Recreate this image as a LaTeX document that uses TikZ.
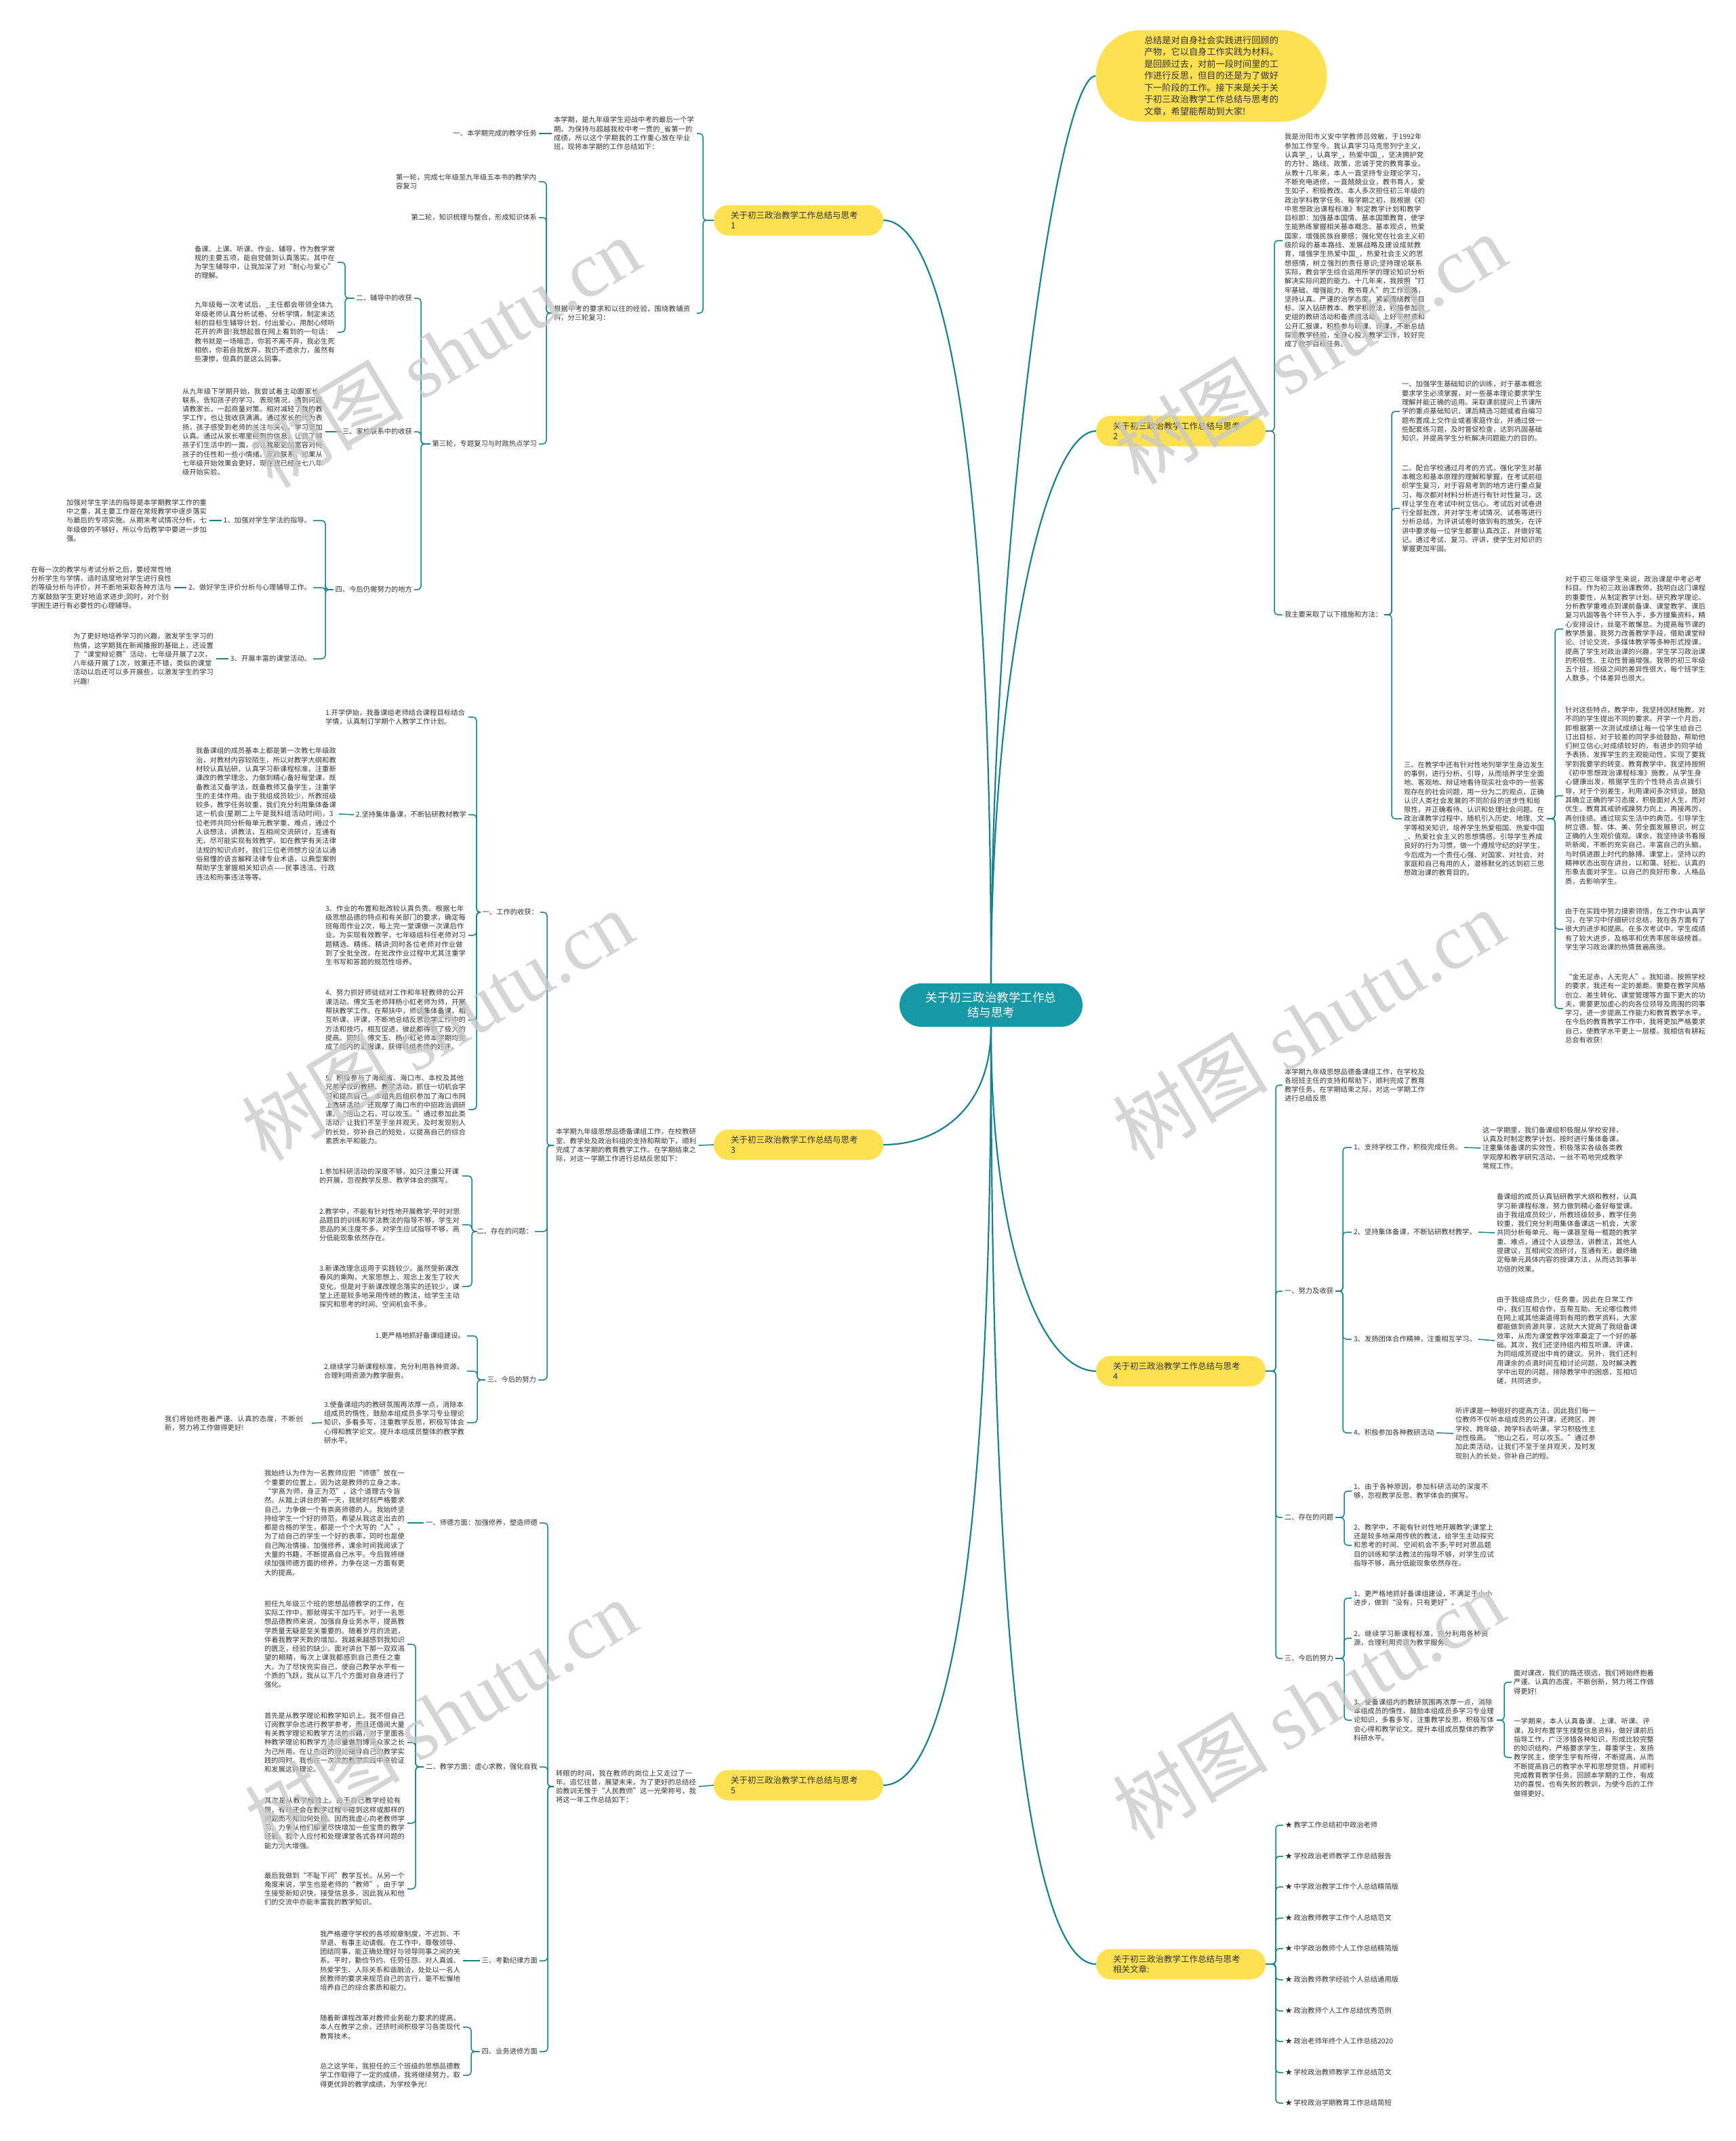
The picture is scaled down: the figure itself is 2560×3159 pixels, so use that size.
\documentclass[tikz,border=0pt]{standalone}
\usepackage{fontspec}
\setmainfont{Noto Sans CJK SC}
\newfontfamily\wmfont{Liberation Serif}
\usepackage{tikz}
\usetikzlibrary{positioning}
\XeTeXlinebreaklocale "zh"
\XeTeXlinebreakskip=0pt plus 1pt

\definecolor{kernfarbe}{RGB}{22,152,166}
\definecolor{gelb}{RGB}{253,225,80}
\definecolor{linie}{RGB}{24,130,144}
\definecolor{schrift}{RGB}{51,51,51}

\tikzset{
    kern/.style={fill=kernfarbe, text=white, rounded corners=32pt, minimum width=270pt, minimum height=64pt, align=center, font=\fontsize{17.5}{22}\selectfont},
    blase/.style={fill=gelb, text=schrift, rounded corners=67pt, minimum width=341pt, minimum height=135pt, align=left, font=\fontsize{13.2}{17.5}\selectfont},
    thema/.style={fill=gelb, text=schrift, rounded corners=22pt, minimum height=45pt, text width=200pt, inner xsep=25pt, inner ysep=4pt, align=left, font=\fontsize{12.5}{15}\selectfont},
    punkt/.style={text=schrift, inner sep=0pt, outer sep=3pt, font=\fontsize{10.3}{13.3}\selectfont},
    absatz/.style={punkt, text width=208pt, align=left},
    ast/.style={draw=linie, line width=1.5pt, rounded corners=5pt},
    hauptast/.style={draw=linie, line width=2.2pt},
    wasserzeichen/.style={text=black!22, text opacity=0.75, rotate=31, font=\fontsize{115}{115}\selectfont}
}

\begin{document}
\begin{tikzpicture}[x=1pt, y=-1pt]
        % Umgebung
            \fill[white] (0,0) rectangle (2560,3159);
            \useasboundingbox (0,0) rectangle (2560,3159);

        % Mitte und Einleitung
            \node[kern] (kern) at (1462,1483) {关于初三政治教学工作总\\结与思考};
            \node[blase] (einl) at (1787,112) {总结是对自身社会实践进行回顾的\\产物，它以自身工作实践为材料。\\是回顾过去，对前一段时间里的工\\作进行反思，但目的还是为了做好\\下一阶段的工作。接下来是关于关\\于初三政治教学工作总结与思考的\\文章，希望能帮助到大家!};

        % Themen
            \node[thema] (th1) at (1178,325) {关于初三政治教学工作总结与思考\\1};
            \node[thema] (th2) at (1742,636) {关于初三政治教学工作总结与思考\\2};
            \node[thema] (th3) at (1178,1689) {关于初三政治教学工作总结与思考\\3};
            \node[thema] (th4) at (1742,2023) {关于初三政治教学工作总结与思考\\4};
            \node[thema] (th5) at (1178,2634) {关于初三政治教学工作总结与思考\\5};
            \node[thema] (th6) at (1742,2898) {关于初三政治教学工作总结与思考\\相关文章:};

        % Hauptaeste
            \draw[hauptast] (kern.north) .. controls (1462,800) and (1560,112) .. (einl.west);
            \draw[hauptast] (kern.north) .. controls (1462,650) and (1390,325) .. (th1.east);
            \draw[hauptast] (kern.north) .. controls (1462,1000) and (1540,636) .. (th2.west);
            \draw[hauptast] (kern.south) .. controls (1462,1640) and (1380,1689) .. (th3.east);
            \draw[hauptast] (kern.south) .. controls (1462,1850) and (1540,2023) .. (th4.west);
            \draw[hauptast] (kern.south) .. controls (1462,2350) and (1390,2634) .. (th5.east);
            \draw[hauptast] (kern.south) .. controls (1462,2600) and (1540,2898) .. (th6.west);

        % Thema 1
            \coordinate (k1) at (1037,0);
            \coordinate (k1b) at (806,0);
            \coordinate (k1c) at (621,0);
            \coordinate (k1d) at (509,0);
            \coordinate (k1e) at (480,0);
            \node[absatz, anchor=east] (p1a) at (1028,197) {本学期，是九年级学生迎战中考的最后一个学期。为保持与超越我校中考一贯的\_省第一的成绩，所以这个学期我的工作重心放在毕业班，现将本学期的工作总结如下：};
            \node[punkt, anchor=east] (p1a1) at (795,197) {一、本学期完成的教学任务};
            \node[absatz, anchor=east] (p1b) at (1028,462) {根据中考的要求和以往的经验，围绕教辅资料，分三轮复习：};
            \node[absatz, anchor=east] (lun1) at (795,268) {第一轮，完成七年级至九年级五本书的教学内容复习};
            \node[punkt, anchor=east] (lun2) at (795,321) {第二轮，知识梳理与整合，形成知识体系};
            \node[punkt, anchor=east] (lun3) at (795,655) {第三轮，专题复习与时政热点学习};
            \node[punkt, anchor=east] (g2) at (611,440) {二、辅导中的收获};
            \node[absatz, anchor=east] (g2a) at (498,387) {备课、上课、听课、作业、辅导，作为教学常规的主要五项，能自觉做到认真落实。其中在为学生辅导中，让我加深了对“耐心与爱心”的理解。};
            \node[absatz, anchor=east] (g2b) at (498,490) {九年级每一次考试后，\_主任都会带领全体九年级老师认真分析试卷、分析学情，制定未达标的目标生辅导计划，付出爱心，用耐心倾听花开的声音!我想起曾在网上看到的一句话：教书就是一场暗恋，你若不离不弃，我必生死相依，你若自我放弃，我仍不遗余力，虽然有些凄惨，但真的是这么回事。};
            \node[punkt, anchor=east] (g3) at (611,637) {三、家校联系中的收获};
            \node[absatz, anchor=east] (g3a) at (480,637) {从九年级下学期开始，我尝试着主动跟家长联系，告知孩子的学习、表现情况，遇到问题请教家长，一起商量对策。相对减轻了我的教学工作，也让我收获满满。通过家长的代为表扬，孩子感受到老师的关注与关心，学习更加认真。通过从家长哪里得到的信息，让我了解孩子们生活中的一面，也让我能更加宽容对待孩子的任性和一些小情绪。家校联系，如果从七年级开始效果会更好，现在我已经在七八年级开始实验。};
            \node[punkt, anchor=east] (g4) at (611,870) {四、今后仍需努力的地方};
            \node[punkt, anchor=east] (g4a) at (462,768) {1、加强对学生学法的指导。};
            \node[absatz, anchor=east] (g4a1) at (309,768) {加强对学生学法的指导是本学期教学工作的重中之重，其主要工作是在常规教学中逐步落实与最后的专项实施。从期末考试情况分析，七年级做的不够好，所以今后教学中要进一步加强。};
            \node[punkt, anchor=east] (g4b) at (462,867) {2、做好学生评价分析与心理辅导工作。};
            \node[absatz, anchor=east] (g4b1) at (257,867) {在每一次的教学与考试分析之后，要经常性地分析学生与学情，适时适度地对学生进行良性的等级分析与评价，并不断地采取各种方法与方案鼓励学生更好地追求进步;同时，对个别学困生进行有必要性的心理辅导。};
            \node[punkt, anchor=east] (g4c) at (462,972) {3、开展丰富的课堂活动。};
            \node[absatz, anchor=east] (g4c1) at (319,972) {为了更好地培养学习的兴趣，激发学生学习的热情，这学期我在新闻播报的基础上，还设置了“课堂辩论赛”活动，七年级开展了2次，八年级开展了1次，效果还不错，类似的课堂活动以后还可以多开展些，以激发学生的学习兴趣!};

            \draw[ast] (th1.west) -- (k1 |- th1.west) |- (p1a.east);
            \draw[ast] (th1.west) -- (k1 |- th1.west) |- (p1b.east);
            \draw[ast] (p1a.west) -- (p1a1.east);
            \draw[ast] (p1b.west) -- (k1b |- p1b.west) |- (lun1.east);
            \draw[ast] (p1b.west) -- (k1b |- p1b.west) |- (lun2.east);
            \draw[ast] (p1b.west) -- (k1b |- p1b.west) |- (lun3.east);
            \draw[ast] (lun3.west) -- (k1c |- lun3.west) |- (g2.east);
            \draw[ast] (lun3.west) -- (k1c |- lun3.west) |- (g3.east);
            \draw[ast] (lun3.west) -- (k1c |- lun3.west) |- (g4.east);
            \draw[ast] (g2.west) -- (k1d |- g2.west) |- (g2a.east);
            \draw[ast] (g2.west) -- (k1d |- g2.west) |- (g2b.east);
            \draw[ast] (g3.west) -- (g3a.east);
            \draw[ast] (g4.west) -- (k1e |- g4.west) |- (g4a.east);
            \draw[ast] (g4.west) -- (k1e |- g4.west) |- (g4b.east);
            \draw[ast] (g4.west) -- (k1e |- g4.west) |- (g4c.east);
            \draw[ast] (g4a.west) -- (g4a1.east);
            \draw[ast] (g4b.west) -- (g4b1.east);
            \draw[ast] (g4c.west) -- (g4c1.east);

        % Thema 2
            \coordinate (k2) at (1880,0);
            \coordinate (k2b) at (2053,0);
            \coordinate (k2c) at (2294,0);
            \node[absatz, anchor=west] (p2a) at (1892,355) {我是汾阳市义安中学教师吕效敏，于1992年参加工作至今。我认真学习马克思列宁主义，认真学\_，认真学\_，热爱中国\_，坚决拥护党的方针、路线、政策，忠诚于党的教育事业。从教十几年来，本人一直坚持专业理论学习，不断充电进修，一直兢兢业业，教书育人，爱生如子，积极教改。本人多次担任初三年级的政治学科教学任务。每学期之初，我根据《初中思想政治课程标准》制定教学计划和教学目标即：加强基本国情、基本国策教育，使学生能熟练掌握相关基本概念、基本观点，热爱国家，增强民族自豪感；强化党在社会主义初级阶段的基本路线、发展战略及建设成就教育，增强学生热爱中国\_，热爱社会主义的思想感情，树立强烈的责任意识;坚持理论联系实际，教会学生综合运用所学的理论知识分析解决实际问题的能力。十几年来，我按照“打牢基础、增强能力、教书育人”的工作思路，坚持认真、严谨的治学态度，紧紧围绕教学目标，深入钻研教本、教学和教法，积极参加政史组的教研活动和备课组活动，上好平时课和公开汇报课，积极参与听课、评课，不断总结探索教学经验，全身心投入教学工作，较好完成了教学目标任务。};
            \node[punkt, anchor=west] (p2b) at (1892,907) {我主要采取了以下措施和方法：};
            \node[absatz, anchor=west] (m1) at (2065,607) {一、加强学生基础知识的训练，对于基本概念要求学生必须掌握，对一些基本理论要求学生理解并能正确的运用。采取课前提问上节课所学的重点基础知识，课后精选习题或者自编习题布置成上交作业或者家庭作业，并通过做一些配套练习题，及时督促检查，达到巩固基础知识，并提高学生分析解决问题能力的目的。};
            \node[absatz, anchor=west] (m2) at (2065,750) {二、配合学校通过月考的方式，强化学生对基本概念和基本原理的理解和掌握，在考试前组织学生复习，对于容易考到的地方进行重点复习，每次都对材料分析进行有针对性复习，这样让学生在考试中树立信心。考试后对试卷进行全部批改，并对学生考试情况、试卷等进行分析总结，为评讲试卷时做到有的放矢，在评讲中要求每一位学生都要认真改正，并做好笔记。通过考试、复习、评讲，使学生对知识的掌握更加牢固。};
            \node[absatz, anchor=west] (m3) at (2068,1208) {三、在教学中还有针对性地列举学生身边发生的事例，进行分析、引导，从而培养学生全面地、客观地、辩证地看待现实社会中的一些客观存在的社会问题，用一分为二的观点，正确认识人类社会发展的不同阶段的进步性和局限性，并正确看待、认识和处理社会问题。在政治课教学过程中，随机引入历史、地理、文学等相关知识，培养学生热爱祖国、热爱中国\_、热爱社会主义的思想情感。引导学生养成良好的行为习惯，做一个遵规守纪的好学生，今后成为一个责任心强、对国家、对社会、对家庭和自己有用的人，潜移默化的达到初三思想政治课的教育目的。};
            \node[absatz, anchor=west] (m3a) at (2306,928) {对于初三年级学生来说，政治课是中考必考科目。作为初三政治课教师，我明白这门课程的重要性，从制定教学计划、研究教学理论、分析教学重难点到课前备课、课堂教学、课后复习巩固等各个环节入手，多方搜集资料，精心安排设计，丝毫不敢懈怠。为提高每节课的教学质量，我努力改善教学手段，借助课堂辩论、讨论交流、多媒体教学等多种形式授课，提高了学生对政治课的兴趣，学生学习政治课的积极性、主动性普遍增强。我带的初三年级五个班，班级之间的差异性很大，每个班学生人数多，个体差异也很大。};
            \node[absatz, anchor=west] (m3b) at (2306,1174) {针对这些特点，教学中，我坚持因材施教，对不同的学生提出不同的要求。开学一个月后，即根据第一次测试成绩让每一位学生给自己订出目标，对于较差的同学多给鼓励，帮助他们树立信心;对成绩较好的，有进步的同学给予表扬，发挥学生的主观能动性，实现了要我学到我要学的转变。教育教学中，我坚持按照《初中思想政治课程标准》施教，从学生身心健康出发，根据学生的个性特点去点拨引导，对于个别差生，利用课间多次倾谈，鼓励其确立正确的学习态度，积极面对人生，而对优生，教育其戒骄戒躁努力向上，再接再厉，再创佳绩。通过现实生活中的典范，引导学生树立德、智、体、美、劳全面发展意识，树立正确的人生观价值观。课余，我坚持读书看报听新闻，不断的充实自己，丰富自己的头脑，与时俱进跟上时代的脉搏。课堂上，坚持以的精神状态出现在讲台，以和蔼、轻松、认真的形象去面对学生。以自己的良好形象，人格品质，去影响学生。};
            \node[absatz, anchor=west] (m3c) at (2306,1371) {由于在实践中努力摸索领悟，在工作中认真学习，在学习中仔细研讨总结，我在各方面有了很大的进步和提高。在多次考试中，学生成绩有了较大进步，及格率和优秀率居年级榜首。学生学习政治课的热情普遍高涨。};
            \node[absatz, anchor=west] (m3d) at (2306,1488) {“金无足赤，人无完人”。我知道，按照学校的要求，我还有一定的差距。需要在教学风格创立、差生转化、课堂管理等方面下更大的功夫，需要更加虚心的向各位领导及周围的同事学习，进一步提高工作能力和教育教学水平。在今后的教育教学工作中，我将更加严格要求自己，使教学水平更上一层楼。我相信有耕耘总会有收获!};

            \draw[ast] (th2.east) -- (k2 |- th2.east) |- (p2a.west);
            \draw[ast] (th2.east) -- (k2 |- th2.east) |- (p2b.west);
            \draw[ast] (p2b.east) -- (k2b |- p2b.east) |- (m1.west);
            \draw[ast] (p2b.east) -- (k2b |- p2b.east) |- (m2.west);
            \draw[ast] (p2b.east) -- (k2b |- p2b.east) |- (m3.west);
            \draw[ast] (m3.east) -- (k2c |- m3.east) |- (m3a.west);
            \draw[ast] (m3.east) -- (k2c |- m3.east) |- (m3b.west);
            \draw[ast] (m3.east) -- (k2c |- m3.east) |- (m3c.west);
            \draw[ast] (m3.east) -- (k2c |- m3.east) |- (m3d.west);

        % Thema 3
            \coordinate (k3a) at (807,0);
            \coordinate (k3b) at (703,0);
            \coordinate (k3c) at (696,0);
            \coordinate (k3d) at (704,0);
            \node[absatz, anchor=east] (p3a) at (1031,1690) {本学期九年级思想品德备课组工作，在校教研室、教学处及政治科组的支持和帮助下，顺利完成了本学期的教育教学工作。在学期结束之际，对这一学期工作进行总结反思如下：};
            \node[punkt, anchor=east] (w1) at (797,1346) {一、工作的收获：};
            \node[absatz, anchor=east] (w1a) at (691,1058) {1.开学伊始，我备课组老师结合课程目标结合学情，认真制订学期个人教学工作计划。};
            \node[punkt, anchor=east] (w1b) at (691,1202) {2.坚持集体备课，不断钻研教材教学};
            \node[absatz, anchor=east] (w1b1) at (500,1201) {我备课组的成员基本上都是第一次教七年级政治，对教材内容较陌生，所以对教学大纲和教材较认真钻研，认真学习新课程标准，注重新课改的教学理念，力做到精心备好每堂课，既备教法又备学法，既备教师又备学生，注重学生的主体作用。由于我组成员较少，所教班级较多，教学任务较重，我们充分利用集体备课这一机会(星期二上午是我科组活动时间)，3位老师共同分析每单元教学重、难点，通过个人谈想法，讲教法，互相间交流研讨，互通有无，尽可能实现有效教学。如在教学有关法律法规的知识点时，我们三位老师想方设法以通俗易懂的语言解释法律专业术语，以典型案例帮助学生掌握相关知识点——民事违法、行政违法和刑事违法等等。};
            \node[absatz, anchor=east] (w1c) at (691,1380) {3、作业的布置和批改较认真负责。根据七年级思想品德的特点和有关部门的要求，确定每班每周作业2次，每上完一堂课做一次课后作业。为实现有效教学，七年级组科任老师对习题精选、精练、精讲;同时各位老师对作业做到了全批全改，在批改作业过程中尤其注重学生书写和答题的规范性培养。};
            \node[absatz, anchor=east] (w1d) at (691,1505) {4、努力抓好师徒结对工作和年轻教师的公开课活动。傅文玉老师拜杨小虹老师为师，开展帮扶教学工作。在帮扶中，师徒集体备课，相互听课、评课，不断地总结反思教学工作中的方法和技巧，相互促进，彼此都得到了极大的提高。同时，傅文玉、杨小虹老师本学期均完成了组内的汇报课，获得科组老师的好评。};
            \node[absatz, anchor=east] (w1e) at (691,1637) {5、积极参与了海南省、海口市、本校及其他兄弟学校的教研、教学活动，抓住一切机会学习和提高自己。本组先后组织参加了海口市网上教研活动，还观摩了海口市的中招政治调研课。“他山之石，可以攻玉。”通过参加此类活动，让我们不至于坐井观天，及时发现别人的长处，弥补自己的短处，以提高自己的综合素质水平和能力。};
            \node[punkt, anchor=east] (w2) at (789,1817) {二、存在的问题：};
            \node[absatz, anchor=east] (w2a) at (682,1735) {1.参加科研活动的深度不够，如只注重公开课的开展，忽视教学反思、教学体会的撰写。};
            \node[absatz, anchor=east] (w2b) at (682,1807) {2.教学中，不能有针对性地开展教学;平时对思品题目的训练和学法教法的指导不够，学生对思品的关注度不多，对学生应试指导不够，高分低能现象依然存在。};
            \node[absatz, anchor=east] (w2c) at (682,1898) {3.新课改理念运用于实践较少。虽然受新课改春风的熏陶，大家思想上、观念上发生了较大变化，但是对于新课改理念落实的还较少，课堂上还是较多地采用传统的教法，给学生主动探究和思考的时间、空间机会不多。};
            \node[punkt, anchor=east] (w3) at (794,2036) {三、今后的努力};
            \node[punkt, anchor=east] (w3a) at (689,1971) {1.更严格地抓好备课组建设。};
            \node[absatz, anchor=east] (w3b) at (689,2023) {2.继续学习新课程标准，充分利用各种资源，合理利用资源为教学服务。};
            \node[absatz, anchor=east] (w3c) at (689,2099) {3.使备课组内的教研氛围再浓厚一点，消除本组成员的惰性，鼓励本组成员多学习专业理论知识，多看多写，注重教学反思，积极写体会心得和教学论文。提升本组成员整体的教学教研水平。};
            \node[absatz, anchor=east, text width=214pt] (w3c1) at (460,2100) {我们将始终抱着严谨、认真的态度，不断创新，努力将工作做得更好!};

            \draw[ast] (th3.west) -- (p3a.east);
            \draw[ast] (p3a.west) -- (k3a |- p3a.west) |- (w1.east);
            \draw[ast] (p3a.west) -- (k3a |- p3a.west) |- (w2.east);
            \draw[ast] (p3a.west) -- (k3a |- p3a.west) |- (w3.east);
            \draw[ast] (w1.west) -- (k3b |- w1.west) |- (w1a.east);
            \draw[ast] (w1.west) -- (k3b |- w1.west) |- (w1b.east);
            \draw[ast] (w1.west) -- (k3b |- w1.west) |- (w1c.east);
            \draw[ast] (w1.west) -- (k3b |- w1.west) |- (w1d.east);
            \draw[ast] (w1.west) -- (k3b |- w1.west) |- (w1e.east);
            \draw[ast] (w1b.west) -- (w1b1.east);
            \draw[ast] (w2.west) -- (k3c |- w2.west) |- (w2a.east);
            \draw[ast] (w2.west) -- (k3c |- w2.west) |- (w2b.east);
            \draw[ast] (w2.west) -- (k3c |- w2.west) |- (w2c.east);
            \draw[ast] (w3.west) -- (k3d |- w3.west) |- (w3a.east);
            \draw[ast] (w3.west) -- (k3d |- w3.west) |- (w3b.east);
            \draw[ast] (w3.west) -- (k3d |- w3.west) |- (w3c.east);
            \draw[ast] (w3c.west) -- (w3c1.east);

        % Thema 4
            \coordinate (k4) at (1882,0);
            \coordinate (k4b) at (1981,0);
            \coordinate (k4c) at (1983,0);
            \coordinate (k4d) at (2219,0);
            \node[absatz, anchor=west] (p4a) at (1892,1601) {本学期九年级思想品德备课组工作，在学校及各班班主任的支持和帮助下，顺利完成了教育教学任务。在学期结束之际，对这一学期工作进行总结反思};
            \node[punkt, anchor=west] (v1) at (1892,1905) {一、努力及收获};
            \node[punkt, anchor=west] (v1a) at (1994,1693) {1、支持学校工作，积极完成任务。};
            \node[absatz, anchor=west] (v1a1) at (2184,1694) {这一学期里，我们备课组积极服从学校安排，认真及时制定教学计划，按时进行集体备课，注重集体备课的实效性，积极落实各级各类教学观摩和教学研究活动，一丝不苟地完成教学常规工作。};
            \node[punkt, anchor=west] (v1b) at (1994,1818) {2、坚持集体备课，不断钻研教材教学。};
            \node[absatz, anchor=west] (v1b1) at (2205,1819) {备课组的成员认真钻研教学大纲和教材，认真学习新课程标准，努力做到精心备好每堂课。由于我组成员较少，所教班级较多，教学任务较重，我们充分利用集体备课这一机会，大家共同分析每单元、每一课甚至每一框题的教学重、难点，通过个人谈想法，讲教法，其他人提建议，互相间交流研讨，互通有无，最终确定每单元具体内容的授课方法，从而达到事半功倍的效果。};
            \node[punkt, anchor=west] (v1c) at (1994,1976) {3、发扬团体合作精神，注重相互学习。};
            \node[absatz, anchor=west] (v1c1) at (2205,1978) {由于我组成员少，任务重，因此在日常工作中，我们互相合作，互帮互助。无论哪位教师在网上或其他渠道得到有用的教学资料，大家都能做到资源共享，这就大大提高了我组备课效率，从而为课堂教学效率奠定了一个好的基础。其次，我们还坚持组内相互听课、评课，为同组成员提出中肯的建议。另外，我们还利用课余的点滴时间互相讨论问题，及时解决教学中出现的问题，排除教学中的困惑，互相切磋，共同进步。};
            \node[punkt, anchor=west] (v1d) at (1994,2114) {4、积极参加各种教研活动};
            \node[absatz, anchor=west] (v1d1) at (2144,2115) {听评课是一种很好的提高方法，因此我们每一位教师不仅听本组成员的公开课，还跨区、跨学校、跨年级、跨学科去听课，学习积极性主动性极高。“他山之石，可以攻玉。”通过参加此类活动，让我们不至于坐井观天，及时发现别人的长处，弥补自己的短。};
            \node[punkt, anchor=west] (v2) at (1892,2239) {二、存在的问题};
            \node[absatz, anchor=west] (v2a) at (1994,2200) {1、由于各种原因，参加科研活动的深度不够，忽视教学反思、教学体会的撰写。};
            \node[absatz, anchor=west] (v2b) at (1994,2280) {2、教学中，不能有针对性地开展教学;课堂上还是较多地采用传统的教法，给学生主动探究和思考的时间、空间机会不多;平时对思品题目的训练和学法教法的指导不够，对学生应试指导不够，高分低能现象依然存在。};
            \node[punkt, anchor=west] (v3) at (1892,2447) {三、今后的努力};
            \node[absatz, anchor=west] (v3a) at (1994,2358) {1、更严格地抓好备课组建设，不满足于小小进步，做到“没有，只有更好”。};
            \node[absatz, anchor=west] (v3b) at (1994,2417) {2、继续学习新课程标准，充分利用各种资源，合理利用资源为教学服务。};
            \node[absatz, anchor=west] (v3c) at (1994,2538) {3、使备课组内的教研氛围再浓厚一点，消除本组成员的惰性，鼓励本组成员多学习专业理论知识，多看多写，注重教学反思，积极写体会心得和教学论文。提升本组成员整体的教学科研水平。};
            \node[absatz, anchor=west] (v3c1) at (2230,2482) {面对课改，我们的路还很远，我们将始终抱着严谨、认真的态度，不断创新，努力将工作做得更好!};
            \node[absatz, anchor=west] (v3c2) at (2230,2593) {一学期来，本人认真备课、上课、听课、评课，及时布置学生搜整信息资料，做好课前后指导工作，广泛涉猎各种知识，形成比较完整的知识结构，严格要求学生，尊重学生，发扬教学民主，使学生学有所得，不断提高，从而不断提高自己的教学水平和思想觉悟，并顺利完成教育教学任务。回顾本学期的工作，有成功的喜悦，也有失败的教训，为使今后的工作做得更好。};

            \draw[ast] (th4.east) -- (k4 |- th4.east) |- (p4a.west);
            \draw[ast] (th4.east) -- (k4 |- th4.east) |- (v1.west);
            \draw[ast] (th4.east) -- (k4 |- th4.east) |- (v2.west);
            \draw[ast] (th4.east) -- (k4 |- th4.east) |- (v3.west);
            \draw[ast] (v1.east) -- (k4b |- v1.east) |- (v1a.west);
            \draw[ast] (v1.east) -- (k4b |- v1.east) |- (v1b.west);
            \draw[ast] (v1.east) -- (k4b |- v1.east) |- (v1c.west);
            \draw[ast] (v1.east) -- (k4b |- v1.east) |- (v1d.west);
            \draw[ast] (v1a.east) -- (v1a1.west);
            \draw[ast] (v1b.east) -- (v1b1.west);
            \draw[ast] (v1c.east) -- (v1c1.west);
            \draw[ast] (v1d.east) -- (v1d1.west);
            \draw[ast] (v2.east) -- (k4c |- v2.east) |- (v2a.west);
            \draw[ast] (v2.east) -- (k4c |- v2.east) |- (v2b.west);
            \draw[ast] (v3.east) -- (k4c |- v3.east) |- (v3a.west);
            \draw[ast] (v3.east) -- (k4c |- v3.east) |- (v3b.west);
            \draw[ast] (v3.east) -- (k4c |- v3.east) |- (v3c.west);
            \draw[ast] (v3c.east) -- (k4d |- v3c.east) |- (v3c1.west);
            \draw[ast] (v3c.east) -- (k4d |- v3c.east) |- (v3c2.west);

        % Thema 5
            \coordinate (k5) at (808,0);
            \coordinate (k5b) at (613,0);
            \coordinate (k5c) at (695,0);
            \node[absatz, anchor=east] (p5a) at (1031,2636) {转眼的时间，我在教师的岗位上又走过了一年。追忆往昔，展望未来，为了更好的总结经验教训无愧于“人民教师”这一光荣称号，我将这一年工作总结如下：};
            \node[punkt, anchor=east] (u1) at (796,2247) {一、师德方面：加强修养，塑造师德};
            \node[absatz, anchor=east] (u1a) at (601,2247) {我始终认为作为一名教师应把“师德”放在一个重要的位置上，因为这是教师的立身之本。“学高为师，身正为范”，这个道理古今皆然。从踏上讲台的第一天，我就时刻严格要求自己，力争做一个有崇高师德的人。我始终坚持给学生一个好的师范，希望从我这走出去的都是合格的学生，都是一个个大写的“人”。为了给自己的学生一个好的表率，同时也是使自己陶冶情操，加强修养，课余时间我阅读了大量的书籍，不断提高自己水平。今后我将继续加强师德方面的修养，力争在这一方面有更大的提高。};
            \node[punkt, anchor=east] (u2) at (796,2607) {二、教学方面：虚心求教，强化自我};
            \node[absatz, anchor=east] (u2a) at (601,2426) {担任九年级三个班的思想品德教学的工作，在实际工作中，那就得实干加巧干。对于一名思想品德教师来说，加强自身业务水平，提高教学质量无疑是至关重要的。随着岁月的流逝，伴着我教学天数的增加，我越来越感到我知识的匮乏，经验的缺少。面对讲台下那一双双渴望的眼睛，每次上课我都感到自己责任之重大。为了尽快充实自己，使自己教学水平有一个质的飞跃，我从以下几个方面对自身进行了强化。};
            \node[absatz, anchor=east] (u2b) at (601,2571) {首先是从教学理论和教学知识上。我不但自己订阅教学杂志进行教学参考，而且还借阅大量有关教学理论和教学方法的书籍，对于里面各种教学理论和教学方法尽量做到博采众家之长为己所用。在让先进的理论指导自己的教学实践的同时，我也在一次次的教学实践中来验证和发展这种理论。};
            \node[absatz, anchor=east] (u2c) at (601,2690) {其次是从教学经验上。由于自己教学经验有限，有时还会在教学过程中碰到这样或那样的问题而不知如何处理。因而我虚心向老教师学习，力争从他们那里尽快增加一些宝贵的教学经验。我个人应付和处理课堂各式各样问题的能力大大增强。};
            \node[absatz, anchor=east] (u2d) at (601,2787) {最后我做到“不耻下问”教学互长。从另一个角度来说，学生也是老师的“教师”。由于学生接受新知识快，接受信息多，因此我从和他们的交流中亦能丰富我的教学知识。};
            \node[punkt, anchor=east] (u3) at (796,2893) {三、考勤纪律方面};
            \node[absatz, anchor=east] (u3a) at (683,2893) {我严格遵守学校的各项规章制度，不迟到、不早退、有事主动请假。在工作中，尊敬领导、团结同事，能正确处理好与领导同事之间的关系。平时，勤俭节约、任劳任怨、对人真诚、热爱学生、人际关系和谐融洽，处处以一名人民教师的要求来规范自己的言行，毫不松懈地培养自己的综合素质和能力。};
            \node[punkt, anchor=east] (u4) at (796,3027) {四、业务进修方面};
            \node[absatz, anchor=east] (u4a) at (683,2991) {随着新课程改革对教师业务能力要求的提高，本人在教学之余，还挤时间积极学习各类现代教育技术。};
            \node[absatz, anchor=east] (u4b) at (683,3062) {总之这学年，我担任的三个班级的思想品德教学工作取得了一定的成绩，我将继续努力，取得更优异的教学成绩，为学校争光!};

            \draw[ast] (th5.west) -- (p5a.east);
            \draw[ast] (p5a.west) -- (k5 |- p5a.west) |- (u1.east);
            \draw[ast] (p5a.west) -- (k5 |- p5a.west) |- (u2.east);
            \draw[ast] (p5a.west) -- (k5 |- p5a.west) |- (u3.east);
            \draw[ast] (p5a.west) -- (k5 |- p5a.west) |- (u4.east);
            \draw[ast] (u1.west) -- (u1a.east);
            \draw[ast] (u2.west) -- (k5b |- u2.west) |- (u2a.east);
            \draw[ast] (u2.west) -- (k5b |- u2.west) |- (u2b.east);
            \draw[ast] (u2.west) -- (k5b |- u2.west) |- (u2c.east);
            \draw[ast] (u2.west) -- (k5b |- u2.west) |- (u2d.east);
            \draw[ast] (u3.west) -- (u3a.east);
            \draw[ast] (u4.west) -- (k5c |- u4.west) |- (u4a.east);
            \draw[ast] (u4.west) -- (k5c |- u4.west) |- (u4b.east);

        % Thema 6 (Artikel)
            \coordinate (k6) at (1882,0);
            \node[punkt, anchor=west] (rel1) at (1893,2693) {★ 教学工作总结初中政治老师};
            \node[punkt, anchor=west] (rel2) at (1893,2739) {★ 学校政治老师教学工作总结报告};
            \node[punkt, anchor=west] (rel3) at (1893,2784) {★ 中学政治教学工作个人总结精简版};
            \node[punkt, anchor=west] (rel4) at (1893,2830) {★ 政治教师教学工作个人总结范文};
            \node[punkt, anchor=west] (rel5) at (1893,2875) {★ 中学政治教师个人工作总结精简版};
            \node[punkt, anchor=west] (rel6) at (1893,2921) {★ 政治教师教学经验个人总结通用版};
            \node[punkt, anchor=west] (rel7) at (1893,2967) {★ 政治教师个人工作总结优秀范例};
            \node[punkt, anchor=west] (rel8) at (1893,3012) {★ 政治老师年终个人工作总结2020};
            \node[punkt, anchor=west] (rel9) at (1893,3058) {★ 学校政治教师教学工作总结范文};
            \node[punkt, anchor=west] (rel10) at (1893,3103) {★ 学校政治学期教育工作总结简短};

            \draw[ast] (th6.east) -- (k6 |- th6.east) |- (rel1.west);
            \draw[ast] (th6.east) -- (k6 |- th6.east) |- (rel2.west);
            \draw[ast] (th6.east) -- (k6 |- th6.east) |- (rel3.west);
            \draw[ast] (th6.east) -- (k6 |- th6.east) |- (rel4.west);
            \draw[ast] (th6.east) -- (k6 |- th6.east) |- (rel5.west);
            \draw[ast] (th6.east) -- (k6 |- th6.east) |- (rel6.west);
            \draw[ast] (th6.east) -- (k6 |- th6.east) |- (rel7.west);
            \draw[ast] (th6.east) -- (k6 |- th6.east) |- (rel8.west);
            \draw[ast] (th6.east) -- (k6 |- th6.east) |- (rel9.west);
            \draw[ast] (th6.east) -- (k6 |- th6.east) |- (rel10.west);

        % Wasserzeichen
            \node[wasserzeichen] (wz1) at (655,520) {树图 {\wmfont shutu.cn}};
            \node[wasserzeichen] (wz2) at (1933,515) {树图 {\wmfont shutu.cn}};
            \node[wasserzeichen] (wz3) at (645,1513) {树图 {\wmfont shutu.cn}};
            \node[wasserzeichen] (wz4) at (1930,1512) {树图 {\wmfont shutu.cn}};
            \node[wasserzeichen] (wz5) at (650,2530) {树图 {\wmfont shutu.cn}};
            \node[wasserzeichen] (wz6) at (1930,2515) {树图 {\wmfont shutu.cn}};
    \end{tikzpicture}
\end{document}
